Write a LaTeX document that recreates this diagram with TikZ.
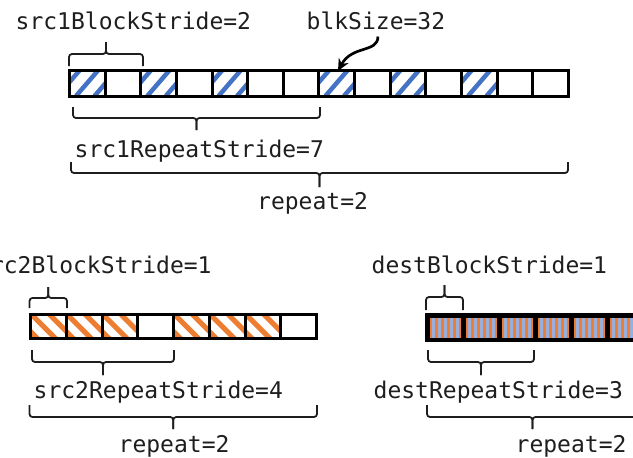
\documentclass[tikz,border=0pt]{standalone}
\usepackage{fontspec}
\setmonofont{DejaVu Sans Mono}
\usetikzlibrary{arrows.meta}

\definecolor{hatchblue}{HTML}{4472C4}
\definecolor{hatchorange}{HTML}{ED7D31}
\definecolor{mixblue}{HTML}{98AEDC}
\definecolor{ink}{HTML}{1E1E1E}

\tikzset{
  lbl/.style={anchor=base west, inner sep=0pt, text=ink,
              font=\ttfamily\fontsize{23}{27}\selectfont},
  bracket/.style={draw=ink, line width=1.8pt, rounded corners=3pt},
  cellgrid/.style={draw=black, line width=3pt},
  destgrid/.style={draw=black, line width=4.5pt},
  bluestripe/.style={draw=hatchblue, line width=4.5pt},
  orangestripe/.style={draw=hatchorange, line width=5pt},
  mixstripe/.style={draw=hatchorange, line width=2.8pt},
  pointer/.style={draw=black, line width=2.7pt, -{Stealth[length=12pt,width=11pt]}},
}

% horizontal brace: x-left, x-right, y of the ends, y of the bar, y of the tick
\newcommand\hbrace[5]{%
  \draw[bracket] (#1,#3) -- (#1,#4) -- ({(#1+#2)/2},#4) -- ({(#1+#2)/2},#5);
  \draw[bracket] (#2,#3) -- (#2,#4) -- ({(#1+#2)/2},#4) -- ({(#1+#2)/2},#5);
}
% cell with rising blue stripes: x-left, y-top, width, height
\newcommand\bluecell[4]{%
  \begin{scope}
    \clip (#1,#2) rectangle ++(#3,#4);
    \foreach \k in {-12,6.5,25}
      \draw[bluestripe] ({#1+\k},{#2+#4}) -- ++(22,-#4);
  \end{scope}
}
% cell with falling orange stripes
\newcommand\orangecell[4]{%
  \begin{scope}
    \clip (#1,#2) rectangle ++(#3,#4);
    \foreach \k in {-17,1,19}
      \draw[orangestripe] ({#1+\k},#2) -- ++(24,#4);
  \end{scope}
}
% cell with fine vertical orange/blue stripes
\newcommand\mixcell[4]{%
  \begin{scope}
    \clip (#1,#2) rectangle ++(#3,#4);
    \fill[mixblue] (#1,#2) rectangle ++(#3,#4);
    \foreach \j in {0,...,5}
      \draw[mixstripe] ({#1+3+\j*6},#2) -- ++(0,#4);
  \end{scope}
}

\begin{document}
\begin{tikzpicture}[x=1pt,y=-1pt]
\path[use as bounding box] (0,0) rectangle (633,458);
\clip (0,0) rectangle (633,458);

% ---------- src1 row ----------
\foreach \i in {0,2,4,7,9,11} {
  \pgfmathsetmacro\xa{69.5+\i*35.64}
  \bluecell{\xa}{70.5}{35.64}{25.5}
}
\draw[cellgrid] (69.5,70.5) rectangle (568.5,96);
\foreach \i in {1,...,13}
  \draw[cellgrid] ({69.5+\i*35.64},70.5) -- ++(0,25.5);

% ---------- src2 row ----------
\foreach \i in {0,1,2,4,5,6} {
  \pgfmathsetmacro\xa{30.5+\i*35.75}
  \orangecell{\xa}{314.5}{35.75}{24}
}
\draw[cellgrid] (30.5,314.5) rectangle (316.5,338.5);
\foreach \i in {1,...,7}
  \draw[cellgrid] ({30.5+\i*35.75},314.5) -- ++(0,24);

% ---------- dest row ----------
\foreach \i in {0,...,5} {
  \pgfmathsetmacro\xa{427.25+\i*36}
  \mixcell{\xa}{315.25}{36}{24.5}
}
\draw[destgrid] (427.25,315.25) rectangle (643.25,339.75);
\foreach \i in {1,...,5}
  \draw[destgrid] ({427.25+\i*36},315.25) -- ++(0,24.5);

% ---------- labels ----------
\node[lbl] (s1bs) at (15.5,29) {src1BlockStride=2};
\node[lbl] (blk)  at (306.5,29) {blkSize=32};
\node[lbl] (s1rs) at (74.5,157) {src1RepeatStride=7};
\node[lbl] (rep1) at (257,209) {repeat=2};
\node[lbl] (s2bs) at (-24,273) {src2BlockStride=1};
\node[lbl] (s2rs) at (33.5,398) {src2RepeatStride=4};
\node[lbl] (rep2) at (118.5,452) {repeat=2};
\node[lbl] (dbs)  at (371.5,273) {destBlockStride=1};
\node[lbl] (drs)  at (373.5,398) {destRepeatStride=3};
\node[lbl] (rep3) at (515.5,452) {repeat=2};

% ---------- braces ----------
\hbrace{69}{143}{66}{54}{42}
\hbrace{73}{320}{107}{118}{130}
\hbrace{71}{568}{162}{173}{187}
\hbrace{29.5}{67}{308}{298}{287}
\hbrace{32}{174}{350}{362}{375}
\hbrace{29.5}{317}{405}{417}{429}
\hbrace{426}{463}{310}{297}{285}
\hbrace{428}{534}{350}{362}{375}
\hbrace{427}{638}{405}{417}{429}

% ---------- block size pointer ----------
\coordinate (blktip) at (338,71);
\draw[pointer] ([shift={(2,7)}]blk.south) .. controls (378,53) and (352,45) .. (blktip);

\end{tikzpicture}
\end{document}
